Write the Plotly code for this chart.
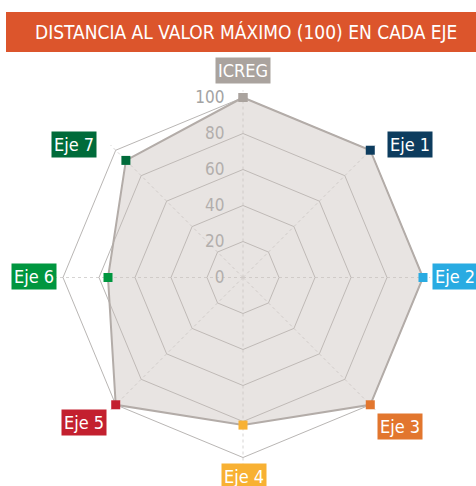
import math
import plotly.graph_objects as go

# Axes of the radar and their values (distance to the maximum, 0-100)
ejes = ["ICREG", "Eje 1", "Eje 2", "Eje 3", "Eje 4", "Eje 5", "Eje 6", "Eje 7"]
valores = [100, 100, 100, 100, 82, 100, 75, 92]
colores = ["#aaa39e", "#0d3c5e", "#29abe2", "#e2762e", "#f8b133", "#c3202f", "#00963f", "#006b3a"]
radial_ticks = [0, 20, 40, 60, 80, 100]
titulo = "DISTANCIA AL VALOR MÁXIMO (100) EN CADA EJE"

W, H = 476, 486
CX, CY, R = 243, 208.5, 180  # polar centre (px from left / bottom) and radius of 100
RMAX = 104                   # radial range slightly beyond 100 so edge markers are not clipped
RD = R * RMAX / 100
FONT = "Liberation Sans Narrow, DejaVu Sans Condensed, Arial Narrow, sans-serif"

fig = go.Figure()
fig.add_trace(go.Scatterpolar(
    r=valores + valores[:1],
    theta=ejes + ejes[:1],
    mode="lines+markers",
    fill="toself",
    fillcolor="rgba(200,190,187,0.42)",
    line=dict(color="#b3aca8", width=2),
    marker=dict(symbol="square", size=9, color=colores + colores[:1]),
    cliponaxis=False,
    hoverinfo="skip",
    showlegend=False,
))

fig.update_layout(
    width=W, height=H,
    margin=dict(l=0, r=0, t=0, b=0),
    paper_bgcolor="white",
    plot_bgcolor="white",
    polar=dict(
        domain=dict(x=[(CX - RD) / W, (CX + RD) / W], y=[(CY - RD) / H, (CY + RD) / H]),
        bgcolor="rgba(0,0,0,0)",
        gridshape="linear",
        radialaxis=dict(
            range=[0, RMAX],
            tickvals=radial_ticks,
            angle=90,
            tickangle=90,
            side="counterclockwise",
            showline=False,
            ticks="outside",
            ticklen=12,
            tickcolor="rgba(0,0,0,0)",
            gridcolor="#b9b6b4",
            gridwidth=1.3,
            layer="below traces",
            tickfont=dict(family=FONT, size=17, color="#a3a3a3"),
        ),
        angularaxis=dict(
            direction="clockwise",
            rotation=90,
            showticklabels=False,
            ticks="",
            showline=False,
            gridcolor="#d6d4d3",
            griddash="dot",
            gridwidth=1.3,
            layer="below traces",
        ),
    ),
)

# Title banner
fig.add_shape(type="rect", xref="paper", yref="paper",
              x0=6 / W, x1=1, y0=1 - 52 / H, y1=1 - 12 / H,
              fillcolor="#dc552c", line=dict(width=0), layer="below")
fig.add_annotation(xref="paper", yref="paper", x=245.5 / W, y=1 - 32 / H,
                   text=titulo, showarrow=False, xanchor="center", yanchor="middle",
                   font=dict(family=FONT, size=19, color="white"))

# Axis labels in coloured boxes, anchored to the outer vertices
placement = [
    ("center", "bottom", 0, 14),
    ("left", "middle", 17, 6),
    ("left", "middle", 9, 1),
    ("left", "top", 7, -8),
    ("center", "top", 1, -5),
    ("right", "top", -9, -4),
    ("right", "middle", -6, 1),
    ("right", "middle", -19, 6),
]
n = len(ejes)
for i, (name, col) in enumerate(zip(ejes, colores)):
    ang = 2 * math.pi * i / n
    px = CX + R * math.sin(ang)
    py = CY + R * math.cos(ang)
    xa, ya, xs, ys = placement[i]
    fig.add_annotation(xref="paper", yref="paper", x=px / W, y=py / H,
                       text=name, showarrow=False, xanchor=xa, yanchor=ya,
                       xshift=xs, yshift=ys, bgcolor=col, borderpad=2,
                       font=dict(family=FONT, size=18, color="white"))

fig.write_html("out.html")
